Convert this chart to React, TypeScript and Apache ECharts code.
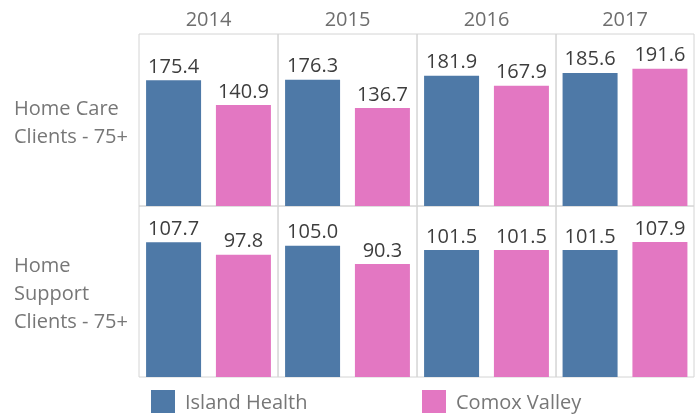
import React, { useEffect, useRef } from "react";
import * as echarts from "echarts";

const years = ["2014", "2015", "2016", "2017"];
const seriesNames = ["Island Health", "Comox Valley"];
const rowLabels = ["Home Care\nClients - 75+", "Home\nSupport\nClients - 75+"];
const homeCareIsland = [175.4, 176.3, 181.9, 185.6];
const homeCareComox = [140.9, 136.7, 167.9, 191.6];
const homeSupportIsland = [107.7, 105.0, 101.5, 101.5];
const homeSupportComox = [97.8, 90.3, 101.5, 107.9];
const rowMax = [240, 136.7];

const COLORS = ["#4e79a7", "#e377c2"];
const FONT = "Open Sans";

export default function App() {
  const ref = useRef<HTMLDivElement>(null);
  useEffect(() => {
    if (!ref.current) return;
    const chart = echarts.init(ref.current, null, { renderer: "svg" });
    const rows = [
      [homeCareIsland, homeCareComox],
      [homeSupportIsland, homeSupportComox],
    ];
    const colLeft = 139;
    const colW = 139;
    const rowTop = [34, 206];
    const rowH = [172, 171];
    const grids: any[] = [];
    const xAxes: any[] = [];
    const yAxes: any[] = [];
    const series: any[] = [];
    rows.forEach((rowData, r) => {
      years.forEach((year, c) => {
        const idx = grids.length;
        grids.push({
          left: colLeft + c * colW,
          top: rowTop[r],
          width: c === 3 ? colW - 1 : colW,
          height: rowH[r],
          show: true,
          borderColor: "#d4d4d4",
          borderWidth: 1,
          backgroundColor: "transparent",
        });
        xAxes.push({
          type: "category",
          gridIndex: idx,
          data: [year],
          position: "top",
          axisLine: { show: false },
          axisTick: { show: false },
          axisLabel: {
            show: r === 0,
            color: "#6e6e6e",
            fontSize: 20,
            fontFamily: FONT,
            margin: 6,
          },
        });
        yAxes.push({
          type: "value",
          gridIndex: idx,
          min: 0,
          max: rowMax[r],
          show: false,
          splitLine: { show: false },
        });
        rowData.forEach((vals, s) => {
          series.push({
            type: "bar",
            name: seriesNames[s],
            xAxisIndex: idx,
            yAxisIndex: idx,
            data: [vals[c]],
            barWidth: 55,
            barGap: "27%",
            itemStyle: { color: COLORS[s] },
            label: {
              show: true,
              position: "top",
              distance: 5,
              color: "#3d3d3d",
              fontSize: 20,
              fontFamily: FONT,
              formatter: (p: any) => Number(p.value).toFixed(1),
            },
          });
        });
      });
    });

    chart.setOption({
      animation: false,
      grid: grids,
      xAxis: xAxes,
      yAxis: yAxes,
      series,
      legend: seriesNames.map((n, i) => ({
        data: [n],
        left: i === 0 ? 151 : 422,
        top: 390,
        padding: 0,
        icon: "rect",
        itemWidth: 24,
        itemHeight: 23,
        selectedMode: false,
        textStyle: {
          color: "#777777",
          fontSize: 20,
          fontFamily: FONT,
          padding: [0, 0, 0, 5],
        },
      })),
      graphic: rowLabels.map((t, r) => ({
        type: "text",
        x: 14,
        y: rowTop[r] + rowH[r] / 2 + 1,
        style: {
          text: t,
          fill: "#777777",
          fontSize: 20,
          fontFamily: FONT,
          lineHeight: 28,
          align: "left",
          verticalAlign: "middle",
        },
      })),
    });
    return () => chart.dispose();
  }, []);
  return (
    <div
      ref={ref}
      style={{ position: "fixed", left: 0, top: 0, width: 699, height: 415 }}
    />
  );
}
